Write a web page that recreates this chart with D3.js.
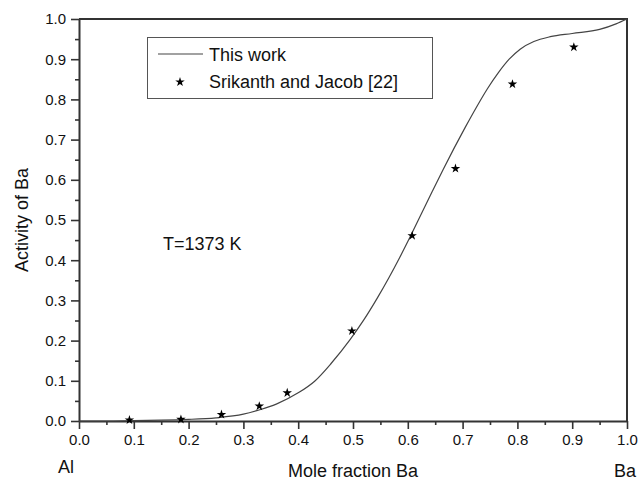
<!DOCTYPE html>
<html lang="en">
<head>
	<meta charset="utf-8">
	<title>Activity of Ba</title>
	<script src="https://d3js.org/d3.v7.min.js"></script>
	<style type="text/css">
		body { margin: 0; background: #fff; }
		text { font-family: "Liberation Sans", Arial, sans-serif; fill: #111; }
		.axis path, .axis line { fill: none; stroke: #333; }
	</style>
</head>
<body>
	<script type="text/javascript">

		//Calculated curve (This work)
		var curveX = [0, 0.05, 0.1, 0.15, 0.2, 0.25, 0.3, 0.33, 0.36, 0.4, 0.43, 0.46, 0.495, 0.52, 0.544, 0.565, 0.585, 0.605, 0.625, 0.645, 0.665, 0.685, 0.705, 0.725, 0.745, 0.765, 0.785, 0.805, 0.83, 0.86, 0.9, 0.95, 0.98, 1.0];
		var curveY = [0, 0, 0.001, 0.002, 0.004, 0.008, 0.017, 0.028, 0.042, 0.07, 0.099, 0.143, 0.203, 0.252, 0.305, 0.355, 0.406, 0.46, 0.516, 0.572, 0.627, 0.68, 0.731, 0.78, 0.826, 0.866, 0.9, 0.925, 0.944, 0.956, 0.964, 0.974, 0.988, 1.0];

		//Experimental points (Srikanth and Jacob)
		var expX = [0.092, 0.186, 0.26, 0.329, 0.38, 0.498, 0.608, 0.687, 0.791, 0.903];
		var expY = [0.0025, 0.004, 0.016, 0.037, 0.07, 0.224, 0.461, 0.628, 0.838, 0.93];

		var xTicks = [0, 0.1, 0.2, 0.3, 0.4, 0.5, 0.6, 0.7, 0.8, 0.9, 1.0];
		var yTicks = [0, 0.1, 0.2, 0.3, 0.4, 0.5, 0.6, 0.7, 0.8, 0.9, 1.0];
		var legendLabels = ["This work", "Srikanth and Jacob [22]"];

		var w = 641;
		var h = 481;
		var mLeft = 79, mRight = 627, mTop = 19, mBottom = 421;

		var svg = d3.select("body")
			.append("svg")
			.attr("width", w)
			.attr("height", h);

		var xScale = d3.scaleLinear().domain([0, 1]).range([mLeft, mRight]);
		var yScale = d3.scaleLinear().domain([0, 1]).range([mBottom, mTop]);

		var minor = d3.range(0.05, 1, 0.1);

		//Minor ticks
		svg.append("g")
			.attr("class", "axis")
			.attr("transform", "translate(0," + mBottom + ")")
			.call(d3.axisBottom(xScale).tickValues(minor).tickSize(4).tickFormat(""))
			.select(".domain").remove();
		svg.append("g")
			.attr("class", "axis")
			.attr("transform", "translate(" + mLeft + ",0)")
			.call(d3.axisLeft(yScale).tickValues(minor).tickSize(4).tickFormat(""))
			.select(".domain").remove();

		//Major axes
		svg.append("g")
			.attr("class", "axis")
			.attr("transform", "translate(0," + mBottom + ")")
			.call(d3.axisBottom(xScale).tickValues(xTicks).tickSize(8).tickSizeOuter(0).tickPadding(5).tickFormat(d3.format(".1f")));
		svg.append("g")
			.attr("class", "axis")
			.attr("transform", "translate(" + mLeft + ",0)")
			.call(d3.axisLeft(yScale).tickValues(yTicks).tickSize(8).tickSizeOuter(0).tickPadding(5).tickFormat(d3.format(".1f")));

		svg.selectAll(".axis text")
			.attr("font-size", "15px")
			.attr("font-family", "Liberation Sans, Arial, sans-serif")
			.attr("fill", "#111");
		svg.selectAll(".axis line").attr("stroke-width", 1.6);
		svg.selectAll(".axis .domain").attr("stroke-width", 2);

		//Top and right frame
		svg.append("path")
			.attr("d", "M" + mLeft + "," + mTop + "H" + mRight + "V" + mBottom)
			.attr("fill", "none")
			.attr("stroke", "#333")
			.attr("stroke-width", 2);

		//Curve
		var line = d3.line()
			.x(function (d, i) { return xScale(curveX[i]); })
			.y(function (d, i) { return yScale(curveY[i]); })
			.curve(d3.curveMonotoneX);

		svg.append("path")
			.datum(curveX)
			.attr("d", line)
			.attr("fill", "none")
			.attr("stroke", "#444")
			.attr("stroke-width", 1.2);

		//Stars
		var star = d3.symbol().type(d3.symbolStar).size(28);
		svg.selectAll(".pt")
			.data(expX)
			.enter()
			.append("path")
			.attr("class", "pt")
			.attr("d", star)
			.attr("transform", function (d, i) {
				return "translate(" + xScale(d) + "," + yScale(expY[i]) + ")";
			})
			.attr("fill", "#000");

		//Legend
		var lg = svg.append("g");
		lg.append("rect")
			.attr("x", 147.5).attr("y", 37.5)
			.attr("width", 285).attr("height", 61)
			.attr("fill", "#fff")
			.attr("stroke", "#555")
			.attr("stroke-width", 1);
		lg.append("line")
			.attr("x1", 158).attr("x2", 203)
			.attr("y1", 54).attr("y2", 54)
			.attr("stroke", "#444").attr("stroke-width", 1.2);
		lg.append("path")
			.attr("d", star)
			.attr("transform", "translate(180,82)")
			.attr("fill", "#000");
		lg.selectAll("text.lg")
			.data(legendLabels)
			.enter()
			.append("text")
			.attr("class", "lg")
			.attr("x", 209)
			.attr("y", function (d, i) { return 61 + i * 27; })
			.attr("font-size", "18px")
			.text(function (d) { return d; });

		//Annotation
		svg.append("text")
			.attr("x", 163).attr("y", 250)
			.attr("font-size", "18px")
			.text("T=1373 K");

		//Axis titles
		svg.append("text")
			.attr("x", (mLeft + mRight) / 2).attr("y", 477)
			.attr("text-anchor", "middle")
			.attr("font-size", "18px")
			.text("Mole fraction Ba");
		svg.append("text")
			.attr("transform", "translate(28," + ((mTop + mBottom) / 2) + ") rotate(-90)")
			.attr("text-anchor", "middle")
			.attr("font-size", "18px")
			.text("Activity of Ba");
		svg.append("text")
			.attr("x", 58).attr("y", 473)
			.attr("font-size", "18px")
			.text("Al");
		svg.append("text")
			.attr("x", 614).attr("y", 477)
			.attr("font-size", "18px")
			.text("Ba");

	</script>
</body>
</html>
